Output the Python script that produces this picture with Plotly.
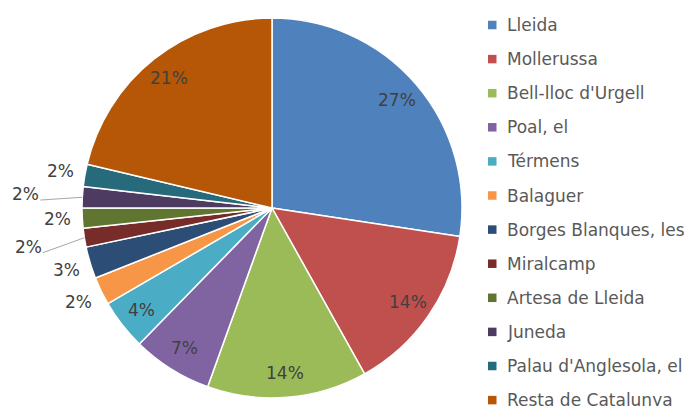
import math
import plotly.graph_objects as go

# ---- data ----
categories = ["Lleida", "Mollerussa", "Bell-lloc d'Urgell", "Poal, el", "Térmens",
              "Balaguer", "Borges Blanques, les", "Miralcamp", "Artesa de Lleida",
              "Juneda", "Palau d'Anglesola, el", "Resta de Catalunya"]
values = [27.4, 14.5, 13.6, 6.8, 4.3, 2.4, 2.7, 1.6, 1.7, 1.8, 1.9, 21.3]

# ---- styles ----
colors = ["#4F81BD", "#C0504D", "#9BBB59", "#8064A2", "#4BACC6", "#F79646",
          "#2C4D75", "#772C2A", "#5F7530", "#4D3B62", "#276A7C", "#B65708"]
# label placement ring per slice: "in" inside, "out" just outside, "far" with leader line
label_ring = ["in", "in", "in", "in", "in", "out", "out", "far", "out", "far", "out", "in"]
ring_factor = {"in": 0.87, "out": 1.13, "far": 1.30}

W, H = 692, 406
OFF = 8  # page body margin
CX, CY, R = 272, 208, 190
FONT = "DejaVu Sans"
LABEL_COLOR = "#404040"
LEGEND_COLOR = "#595959"

def px(x):
    return (x - OFF) / W

def py(y):
    return 1 - (y - OFF) / H

fig = go.Figure()
fig.add_trace(go.Pie(
    labels=categories, values=values, sort=False, direction="clockwise", rotation=0,
    marker=dict(colors=colors, line=dict(color="white", width=1.5)),
    textinfo="none", hoverinfo="label+percent", showlegend=False,
    domain=dict(x=[px(CX - R), px(CX + R)], y=[py(CY + R), py(CY - R)]),
))

annotations = []
shapes = []
total = sum(values)
cum = 0.0
for i, v in enumerate(values):
    mid = (cum + v / 2) / total * 2 * math.pi
    cum += v
    f = ring_factor[label_ring[i]]
    lx = CX + R * f * math.sin(mid)
    ly = CY - R * f * math.cos(mid)
    pct = f"{round(v / total * 100)}%"
    annotations.append(dict(x=px(lx), y=py(ly), xref="paper", yref="paper",
                            text=pct, showarrow=False, xanchor="center", yanchor="middle",
                            font=dict(family=FONT, size=17, color=LABEL_COLOR)))
    if label_ring[i] == "far":
        ex = CX + R * math.sin(mid)
        ey = CY - R * math.cos(mid)
        shapes.append(dict(type="line", xref="paper", yref="paper",
                           x0=px(lx + 15), y0=py(ly + 6), x1=px(ex), y1=py(ey),
                           line=dict(color="#A6A6A6", width=1)))

# custom legend
LEG_X, LEG_Y0, LEG_DY, SQ = 488, 25, 34.1, 8.5
for i, name in enumerate(categories):
    yc = LEG_Y0 + i * LEG_DY
    shapes.append(dict(type="rect", xref="paper", yref="paper",
                       x0=px(LEG_X), x1=px(LEG_X + SQ), y0=py(yc + SQ / 2), y1=py(yc - SQ / 2),
                       fillcolor=colors[i], line=dict(width=0)))
    annotations.append(dict(x=px(LEG_X + 17), y=py(yc), xref="paper", yref="paper",
                            text=name, showarrow=False, xanchor="left", yanchor="middle",
                            font=dict(family=FONT, size=17, color=LEGEND_COLOR)))

fig.update_layout(
    width=W, height=H, margin=dict(l=0, r=0, t=0, b=0),
    paper_bgcolor="white", plot_bgcolor="white",
    annotations=annotations, shapes=shapes, showlegend=False,
)
fig.write_html("out.html")
